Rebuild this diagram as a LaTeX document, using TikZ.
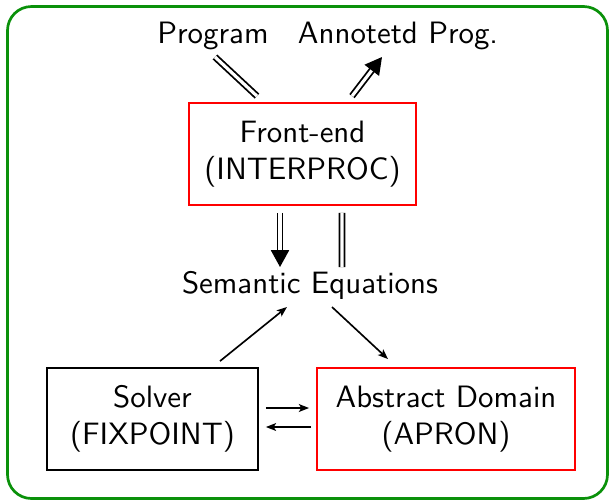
\documentclass[tikz,border=0pt]{standalone}
\usetikzlibrary{arrows.meta,calc}
\definecolor{frame}{RGB}{10,145,10}
\begin{document}
\begin{tikzpicture}[x=0.3333pt,y=-0.3333pt,
  font=\sffamily\fontsize{10.3}{12.4}\selectfont,
  redbox/.style={draw=red,line width=0.6pt,align=center,minimum height=34pt,inner sep=0pt},
  blackbox/.style={draw=black,line width=0.6pt,align=center,minimum height=34pt,inner sep=0pt},
  lbl/.style={anchor=base,inner sep=0pt},
  dbl/.style={double,line width=0.6pt,double distance=1.05pt},
  dblhead/.style={dbl,-{Triangle[width=6pt,length=5.6pt]}},
  arr/.style={line width=0.55pt,-{Stealth[length=3.4pt,width=2.6pt,inset=0.8pt]}}]
\useasboundingbox (0,0) rectangle (610,501);
\draw[frame,line width=0.9pt,rounded corners=8pt] (7.5,6.5) rectangle (607.5,498.5);
\node[redbox,minimum width=75.7pt] (fe) at (302.5,154) {Front-end\\(INTERPROC)};
\node[blackbox,minimum width=70.3pt] (sol) at (152.5,419) {Solver\\(FIXPOINT)};
\node[redbox,minimum width=86pt] (abs) at (446,419) {Abstract Domain\\(APRON)};
\node[lbl] (prog) at (213,43) {Program};
\node[lbl] (ann) at (398,43) {Annotetd Prog.};
\node[lbl] (sem) at (310,293) {Semantic Equations};
\draw[dbl] ($(prog.base)+(2,14)$) -- ($(fe.north)+(-45.5,-6)$);
\draw[dblhead] ($(fe.north)+(49.5,-6)$) -- ($(ann.base)+(-16,14)$);
\draw[dblhead] ($(fe.south)+(-22.5,7)$) -- ($(sem.base)+(-30,-26)$);
\draw[dbl] ($(fe.south)+(39.5,7)$) -- ($(sem.base)+(32,-26)$);
\draw[arr] ($(sol.north)+(67.5,-6)$) -- ($(sem.base)+(-23,14)$);
\draw[arr] ($(sem.base)+(22,14)$) -- ($(abs.north)+(-58,-8)$);
\draw[arr] ($(sol.east)+(7,-11)$) -- ($(abs.west)+(-7,-11)$);
\draw[arr] ($(abs.west)+(-5,8)$) -- ($(sol.east)+(7,8)$);
\end{tikzpicture}
\end{document}
